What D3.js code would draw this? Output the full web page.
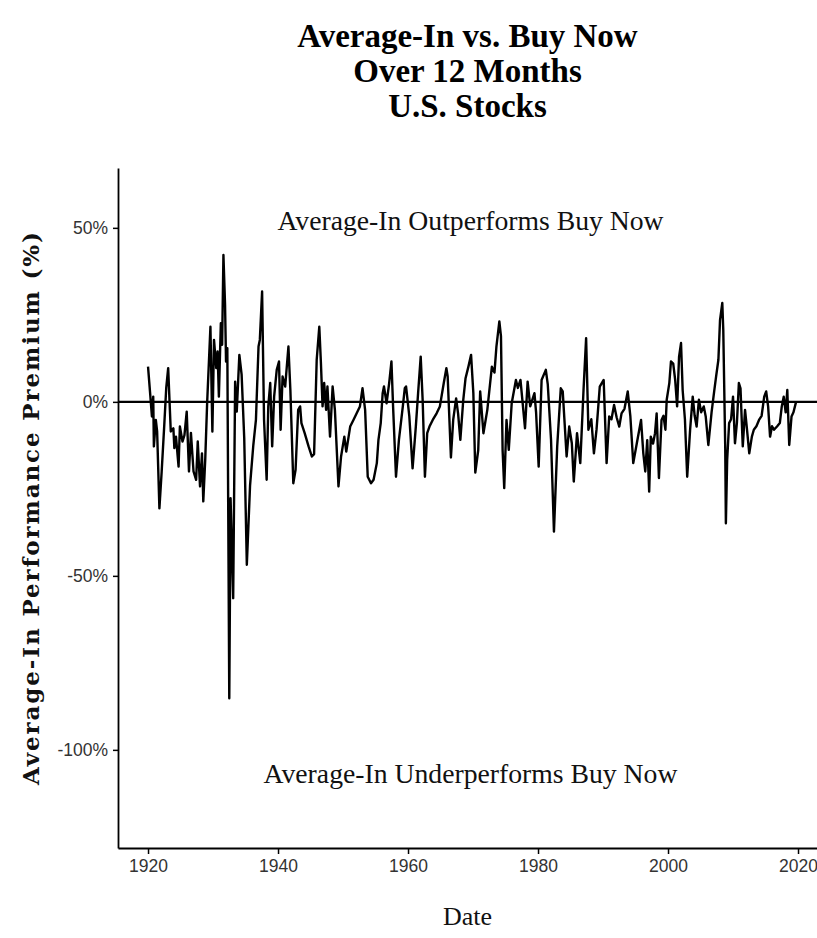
<!DOCTYPE html>
<html>
<head>
<meta charset="utf-8">
<script src="https://cdn.jsdelivr.net/npm/d3@7"></script>
<style>
  html, body { margin: 0; padding: 0; background: #fff; }
  svg { display: block; }
</style>
</head>
<body>
<svg id="chart" width="817" height="938"></svg>
<script>
// ---- Data ----
const titleLines = ["Average-In vs. Buy Now", "Over 12 Months", "U.S. Stocks"];
const xTicks = [1920, 1940, 1960, 1980, 2000, 2020];
const yTicks = [50, 0, -50, -100];

const dates = [
  1920.0,1920.3,1920.6,1920.8,1920.9,1921.2,1921.4,1921.75,1922.1,1922.5,1922.8,1923.1,1923.5,1923.9,1924.05,1924.3,1924.7,1924.9,1925.3,1925.6,1925.95,1926.3,1926.6,1927.0,1927.4,1927.65,1928.0,1928.3,1928.5,1928.8,
  1929.1,1929.6,1929.9,1930.15,1930.5,1930.7,1930.9,1931.2,1931.4,1931.6,1931.85,1932.0,1932.2,1932.5,1932.7,1933.1,1933.4,1933.65,1934.05,1934.4,1934.8,1935.2,1935.7,1936.2,1936.6,1937.0,1937.2,1937.55,1937.85,1938.25,
  1938.5,1938.8,1939.1,1939.4,1939.8,1940.15,1940.4,1940.7,1941.1,1941.6,1941.9,1942.35,1942.7,1943.1,1943.4,1943.6,1944.1,1944.7,1945.2,1945.55,1945.95,1946.35,1946.6,1946.85,1947.1,1947.4,1947.6,1948.0,1948.4,1948.75,
  1949.3,1949.7,1950.2,1950.5,1951.1,1951.6,1952.1,1952.6,1953.0,1953.4,1953.8,1954.3,1954.7,1955.2,1955.45,1955.8,1956.1,1956.3,1956.7,1957.1,1957.45,1957.7,1958.15,1958.6,1959.2,1959.5,1959.7,1960.2,1960.7,1961.2,
  1961.55,1961.95,1962.25,1962.6,1962.95,1963.3,1963.8,1964.4,1964.9,1965.5,1965.9,1966.1,1966.6,1966.95,1967.4,1967.7,1968.05,1968.5,1968.85,1969.3,1969.7,1970.05,1970.35,1970.8,1971.1,1971.6,1972.2,1972.9,1973.3,1973.6,
  1974.05,1974.3,1974.55,1974.8,1975.15,1975.5,1975.95,1976.6,1976.9,1977.3,1978.0,1978.4,1978.8,1979.45,1979.7,1980.1,1980.55,1981.2,1981.5,1982.0,1982.45,1982.95,1983.5,1983.8,1984.4,1984.8,1985.2,1985.5,1986.0,1986.5,
  1987.0,1987.4,1987.75,1988.2,1988.6,1989.0,1989.5,1990.1,1990.55,1990.95,1991.3,1991.7,1992.1,1992.5,1992.85,1993.3,1993.8,1994.2,1994.65,1995.2,1995.85,1996.2,1996.5,1996.8,1997.1,1997.35,1997.7,1998.0,1998.25,1998.6,
  1999.0,1999.3,1999.6,1999.8,2000.2,2000.45,2000.8,2001.1,2001.4,2001.7,2002.0,2002.25,2002.6,2002.95,2003.4,2003.8,2004.1,2004.4,2004.75,2005.1,2005.5,2005.8,2006.2,2006.7,2007.1,2007.4,2007.75,2008.0,2008.35,2008.5,
  2008.8,2008.9,2009.1,2009.4,2009.7,2010.0,2010.3,2010.6,2010.9,2011.15,2011.5,2011.85,2012.1,2012.5,2012.9,2013.2,2013.6,2014.0,2014.4,2014.8,2015.1,2015.4,2015.7,2016.0,2016.3,2016.8,2017.2,2017.5,2017.8,2018.1,
  2018.35,2018.65,2019.0,2019.3,2019.7
];
const premium = [
  10.1,3,-4.2,1.5,-12.8,-5.2,-8.5,-30.6,-20,-6.6,4,9.7,-8.5,-7.6,-13.3,-10,-18.6,-7.1,-11.4,-9.6,-2.8,-20,-8.9,-20,-22.4,-11.4,-24.3,-14.8,-28.6,-16.6,
  0,21.6,-8.5,17.8,9.7,14.5,1.5,22.6,16.4,42.2,27.9,11.6,15.4,-85.2,-27.7,-56.4,5.8,-2.8,13.5,7.8,-10.4,-46.8,-23.9,-12.4,-5.2,15.9,17.8,31.7,-5.2,-22.4,
  -1.3,5.4,-12.8,1.5,9.2,11.6,-8,7.3,4.4,15.9,3.4,-23.4,-19.5,-2.3,-1.3,-6.1,-9,-12.8,-15.7,-15,12.1,21.6,11.1,-1.3,5.4,-2.3,4.4,-10,4.4,-2.3,
  -24.3,-15.7,-10,-14.3,-7.1,-5.2,-3.3,-1.3,3.9,-2.3,-21.5,-23.4,-22.4,-17.6,-10.9,-6.1,2.5,4.4,-0.4,5.4,11.6,-1.3,-21.5,-10.9,-1.3,3.9,4.4,-4.2,-19.1,-7.1,
  2.5,13,0.6,-21.5,-9,-7.1,-5.2,-3.3,-1.3,5.4,9.7,7.3,-16,-5.2,1,-3.3,-10.9,0.6,6.8,10.2,13.5,2.5,-20.3,-13.9,3,-9,-2.3,10.1,8.4,15.9,
  23.1,18.8,-13.8,-24.8,-5.2,-13.8,-0.4,6.3,4,6.3,-7.6,5.8,-1.3,2.5,-3,-18.6,6.3,9.2,5,-10.9,-37.3,-12.8,3.9,3,-15.7,-7.1,-11.9,-22.9,-9,-17.6,
  3.4,18.3,-8,-5,-14.8,-8,4.4,6.3,-17.6,-4.2,-5,-0.9,-4.5,-7.1,-3.3,-2,3,-4,-17.6,-11.9,-5.2,-14.8,-20,-11,-25.8,-10,-12,-9,-3.3,-21.9,
  -5.2,-4,-8,0.6,5.4,11.6,11,6.3,-1.3,13,16.9,3.4,-5,-21.5,-8,1.5,-4,-7.1,0.6,-3,-1.3,-4.2,-12.4,-3,3,7.3,12.1,23.5,28.4,20.7,
  -12.8,-34.9,-16.7,-6.1,-5,1.5,-11.9,-6,5.4,3.9,-12.8,-2.3,-7,-14.8,-10,-8,-7,-5.2,-4,1.5,3,-1.3,-10,-7,-8,-7,-6.1,-1.3,1.5,-3,
  3.4,-12.4,-4.2,-3,0
];

// ---- Layout ----
const svg = d3.select("#chart");
const plot = { left: 118, right: 817, top: 168, bottom: 848 };

const x = d3.scaleLinear().domain([1915.38, 2022.92]).range([plot.left, plot.right]);
const y = d3.scaleLinear().domain([-128.2, 67.2]).range([plot.bottom, plot.top]);

const serif = "'Liberation Serif', 'Times New Roman', serif";
const sans = "'Liberation Sans', Arial, sans-serif";

// Title
const cx = (plot.left + plot.right) / 2;
svg.append("g").selectAll("text").data(titleLines).join("text")
  .attr("x", cx)
  .attr("y", (d, i) => 47 + i * 35)
  .attr("text-anchor", "middle")
  .attr("font-family", serif)
  .attr("font-weight", "bold")
  .attr("font-size", 33)
  .attr("fill", "#000")
  .text(d => d);

// Annotations
svg.append("text")
  .attr("x", cx + 3).attr("y", 230)
  .attr("text-anchor", "middle")
  .attr("font-family", serif).attr("font-size", 27.7)
  .attr("fill", "#111")
  .text("Average-In Outperforms Buy Now");
svg.append("text")
  .attr("x", cx + 3).attr("y", 783)
  .attr("text-anchor", "middle")
  .attr("font-family", serif).attr("font-size", 27.7)
  .attr("fill", "#111")
  .text("Average-In Underperforms Buy Now");

// Zero line
svg.append("line")
  .attr("x1", plot.left).attr("x2", plot.right)
  .attr("y1", y(0)).attr("y2", y(0))
  .attr("stroke", "#000").attr("stroke-width", 2.2);

// Series line
const pts = dates.map((d, i) => [d, premium[i]]);
svg.append("path")
  .datum(pts)
  .attr("fill", "none")
  .attr("stroke", "#000")
  .attr("stroke-width", 2.4)
  .attr("stroke-linejoin", "round")
  .attr("d", d3.line().x(d => x(d[0])).y(d => y(d[1])));

// Axes
const xAxis = d3.axisBottom(x).tickValues(xTicks).tickFormat(d3.format("d"))
  .tickSize(6).tickSizeOuter(0).tickPadding(6);
const gx = svg.append("g").attr("transform", `translate(0,${plot.bottom})`).call(xAxis);
gx.select(".domain").attr("stroke", "#000").attr("stroke-width", 1.8);
gx.selectAll(".tick line").attr("stroke", "#000").attr("stroke-width", 1.5);
gx.selectAll(".tick text").attr("font-family", sans).attr("font-size", 17.5).attr("fill", "#333");

const yAxis = d3.axisLeft(y).tickValues(yTicks).tickFormat(d => d + "%")
  .tickSize(5).tickSizeOuter(0).tickPadding(5);
const gy = svg.append("g").attr("transform", `translate(${plot.left},0)`).call(yAxis);
gy.select(".domain").attr("stroke", "#000").attr("stroke-width", 1.8);
gy.selectAll(".tick line").attr("stroke", "#000").attr("stroke-width", 1.5);
gy.selectAll(".tick text").attr("font-family", sans).attr("font-size", 17.5).attr("fill", "#333");

// Axis titles
svg.append("text")
  .attr("x", cx).attr("y", 925)
  .attr("text-anchor", "middle")
  .attr("font-family", serif).attr("font-size", 26)
  .attr("fill", "#111")
  .text("Date");

svg.append("text")
  .attr("transform", `translate(39,${(232 + 785) / 2}) rotate(-90)`)
  .attr("text-anchor", "middle")
  .attr("font-family", "'DejaVu Serif', serif").attr("font-weight", "bold").attr("font-size", 23)
  .attr("textLength", 553).attr("lengthAdjust", "spacing")
  .attr("fill", "#111")
  .text("Average-In Performance Premium (%)");
</script>
</body>
</html>
